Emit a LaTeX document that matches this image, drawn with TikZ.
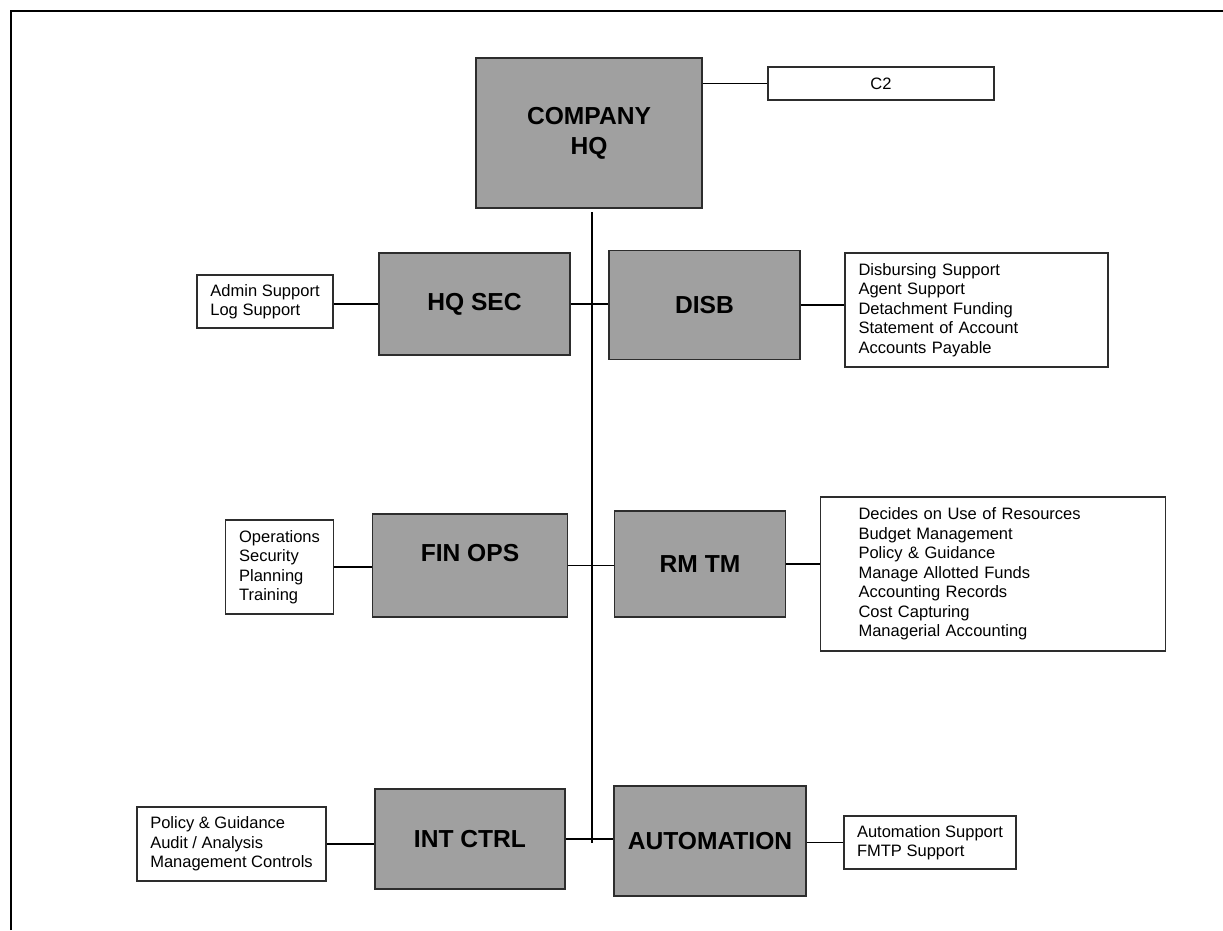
\documentclass[tikz,border=0pt]{standalone}
\usepackage{fontspec}
\setmainfont{Liberation Sans}
\usetikzlibrary{positioning}

\definecolor{unitgray}{RGB}{160,160,160}
\definecolor{edgegray}{RGB}{45,45,45}

\begin{document}
\begin{tikzpicture}[
		x=0.02cm, y=-0.02cm,
		unit/.style={draw=edgegray, fill=unitgray, line width=1pt, align=center, font=\fontsize{14}{17}\selectfont\bfseries},
		duties/.style={draw=edgegray, fill=white, line width=0.9pt, align=left, inner xsep=0.27cm, font=\fontsize{9.4}{11.1}\selectfont},
		link/.style={draw=black, line width=0.7pt},
	]
		\useasboundingbox (0,0) rectangle (1223,930);
		% page frame (top and left only)
		\coordinate (frameleft) at (11,930);
		\coordinate (framecorner) at (11,11);
		\coordinate (frameright) at (1223,11);
		\draw[line width=1.4pt] (frameleft) -- (framecorner) -- (frameright);

		\node (hq) [unit, minimum width=4.52cm, minimum height=3cm] at (589,133) {COMPANY\\HQ};
		\node (c2) [duties, align=center, minimum width=4.52cm, minimum height=0.66cm] at (881,83.5) {C2};

		\node (sec) [unit, minimum width=3.82cm, minimum height=2.04cm] at (474.5,304) {HQ SEC};
		\node (disb) [unit, minimum width=3.82cm, minimum height=2.18cm] at (704.5,305) {DISB};
		\node (admin) [duties, minimum width=2.72cm, minimum height=1.06cm] at (265,301.5) {Admin Support\\Log Support};
		\node (disblist) [duties, text width=4.72cm, minimum height=2.28cm] at (976.5,310) {Disbursing Support\\Agent Support\\Detachment Funding\\Statement of Account\\Accounts Payable};

		\node (finops) [unit, minimum width=3.9cm, minimum height=2.06cm] at (470,565.5) {\raisebox{0.5cm}{FIN OPS}};
		\node (rmtm) [unit, minimum width=3.42cm, minimum height=2.12cm] at (700,564) {RM TM};
		\node (opslist) [duties, minimum width=2.1cm, minimum height=1.88cm] at (279.5,567) {Operations\\Security\\Planning\\Training};
		\node (rmlist) [duties, inner xsep=0.76cm, text width=5.38cm, minimum height=3.08cm] at (993,574) {Decides on Use of Resources\\Budget Management\\Policy \& Guidance\\Manage Allotted Funds\\Accounting Records\\Cost Capturing\\Managerial Accounting};

		\node (intctrl) [unit, minimum width=3.8cm, minimum height=2cm] at (470,839) {INT CTRL};
		\node (automation) [unit, minimum width=3.84cm, minimum height=2.2cm] at (710,841) {AUTOMATION};
		\node (pollist) [duties, minimum width=3.78cm, minimum height=1.48cm] at (231.5,844) {Policy \& Guidance\\Audit / Analysis\\Management Controls};
		\node (autolist) [duties, inner xsep=0.25cm, minimum width=3.44cm, minimum height=1.06cm] at (930,842.5) {Automation Support\\FMTP Support};

		% trunk
		\coordinate (trunktop) at (592,212);
		\coordinate (trunkbot) at (592,843);
		\draw[link] (trunktop) -- (trunkbot);

		\draw[link] (c2.west) -- (c2.west -| hq.east);
		\draw[link] (sec.west) -- (sec.west -| admin.east);
		\draw[link] (sec.east) -- (sec.east -| disb.west);
		\draw[link] (disb.east) -- (disb.east -| disblist.west);
		\draw[link] (opslist.east) -- (opslist.east -| finops.west);
		\draw[link] (finops.east) -- (finops.east -| rmtm.west);
		\draw[link] (rmtm.east) -- (rmtm.east -| rmlist.west);
		\draw[link] (pollist.east) -- (pollist.east -| intctrl.west);
		\draw[link] (intctrl.east) -- (intctrl.east -| automation.west);
		\draw[link] (autolist.west) -- (autolist.west -| automation.east);
	\end{tikzpicture}
\end{document}
